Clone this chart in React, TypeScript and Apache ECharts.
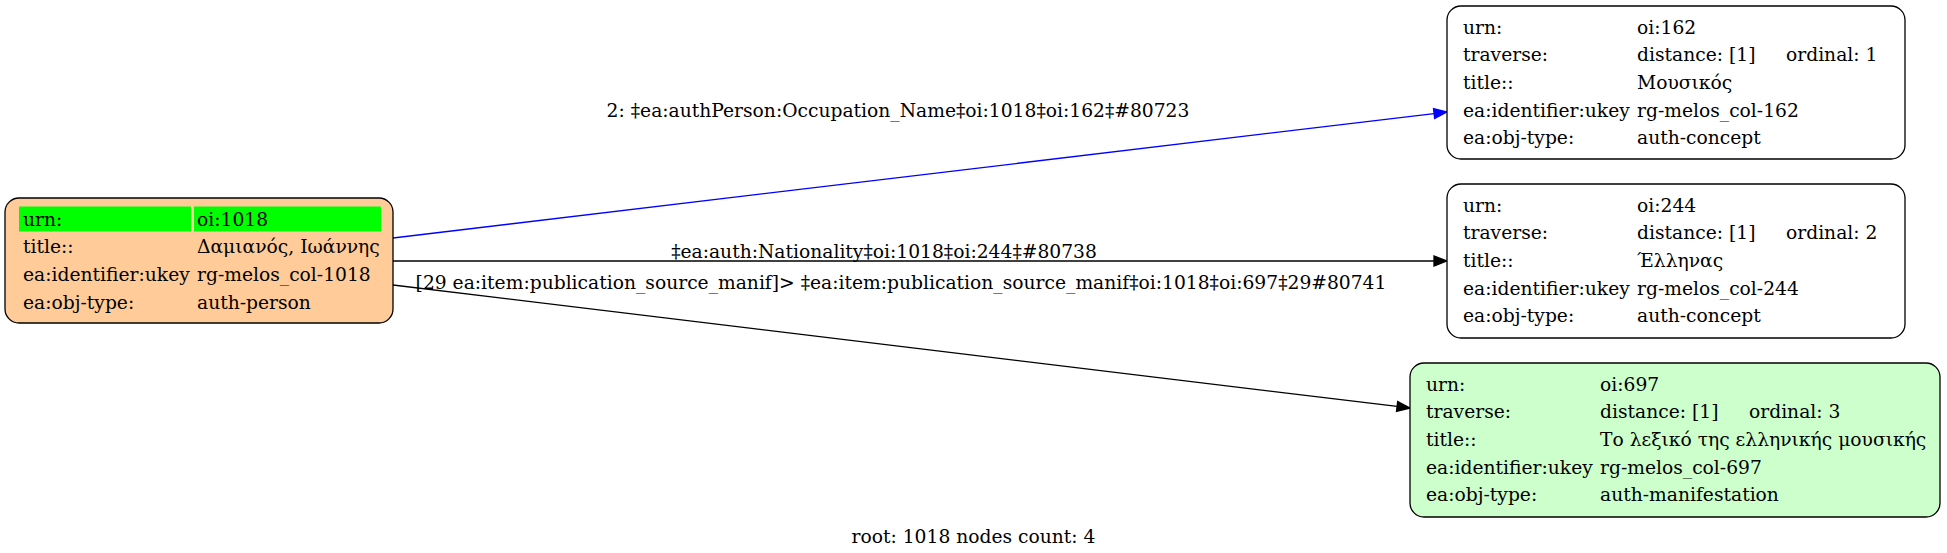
import { useEffect, useRef } from 'react';
import * as echarts from 'echarts';

const FONT_FAMILY = '"DejaVu Serif", serif';
const FONT_SIZE = 18.7;

// node table contents
const nodeUrns = ['oi:1018', 'oi:162', 'oi:244', 'oi:697'];
const nodeTitles = ['Δαμιανός, Ιωάννης', 'Μουσικός', 'Έλληνας', 'Το λεξικό της ελληνικής μουσικής'];
const nodeKeys = ['rg-melos_col-1018', 'rg-melos_col-162', 'rg-melos_col-244', 'rg-melos_col-697'];
const nodeTypes = ['auth-person', 'auth-concept', 'auth-concept', 'auth-manifestation'];
const nodeDistances = [null, 1, 1, 1];
const nodeOrdinals = [null, 1, 2, 3];
const nodeFills = ['#ffcc99', '#ffffff', '#ffffff', '#ccffcc'];

// edges
const edgeSources = [0, 0, 0];
const edgeTargets = [1, 2, 3];
const edgeLabels = [
    '2: ‡ea:authPerson:Occupation_Name‡oi:1018‡oi:162‡#80723',
    '‡ea:auth:Nationality‡oi:1018‡oi:244‡#80738',
    '[29 ea:item:publication_source_manif]> ‡ea:item:publication_source_manif‡oi:1018‡oi:697‡29#80741'
];
const edgeColors = ['#0000ff', '#000000', '#000000'];

const caption = 'root: 1018 nodes count: 4';

// layout (graphviz output, pixels)
const nodeBoxes = [
    [5, 198, 388, 125],
    [1447, 6, 458, 153],
    [1447, 184, 458, 154],
    [1410, 363, 530, 154]
];
const edgePorts = [
    [393, 238, 1447, 112],
    [393, 261, 1447, 261],
    [393, 285, 1410, 408]
];
const edgeLabelPos = [
    [898, 110],
    [884, 251],
    [901, 282]
];

const ROW_H = 27.7;
const FIRST_ROW = 21;

const nodeRows = (i: number) => {
    const rows: string[][] = [['urn:', nodeUrns[i]]];
    if (nodeDistances[i] != null) {
        rows.push(['traverse:', 'distance: [' + nodeDistances[i] + ']', 'ordinal: ' + nodeOrdinals[i]]);
    }
    rows.push(['title::', nodeTitles[i]]);
    rows.push(['ea:identifier:ukey', nodeKeys[i]]);
    rows.push(['ea:obj-type:', nodeTypes[i]]);
    return rows;
};

const txt = (text: string, x: number, y: number, align = 'left') => ({
    type: 'text',
    style: {
        text,
        x,
        y,
        fill: '#000',
        fontFamily: FONT_FAMILY,
        fontSize: FONT_SIZE,
        align,
        verticalAlign: 'middle'
    }
});

const App = () => {
    const chartRef = useRef<HTMLDivElement | null>(null);

    useEffect(() => {
        if (!chartRef.current) return;
        const chart = echarts.init(chartRef.current, null, { renderer: 'svg' });

        const option = {
            animation: false,
            backgroundColor: '#ffffff',
            grid: { left: 0, right: 0, top: 0, bottom: 0 },
            xAxis: { type: 'value', min: 0, max: 1947, show: false },
            yAxis: { type: 'value', min: 0, max: 553, inverse: true, show: false },
            title: {
                text: caption,
                left: 'center',
                top: 522,
                textStyle: { fontFamily: FONT_FAMILY, fontSize: FONT_SIZE, fontWeight: 'normal', color: '#000' }
            },
            series: [
                {
                    type: 'custom',
                    coordinateSystem: 'cartesian2d',
                    clip: false,
                    data: edgeSources.map((s, i) => [s, edgeTargets[i]]),
                    renderItem: (params: any, api: any) => {
                        const i = params.dataIndex;
                        const [x0, y0, x1, y1] = edgePorts[i];
                        const a = api.coord([x0, y0]);
                        const b = api.coord([x1, y1]);
                        const dx = b[0] - a[0];
                        const dy = b[1] - a[1];
                        const len = Math.sqrt(dx * dx + dy * dy);
                        const ux = dx / len;
                        const uy = dy / len;
                        const al = 13;
                        const aw = 5;
                        const bx = b[0] - ux * al;
                        const by = b[1] - uy * al;
                        const lp = api.coord(edgeLabelPos[i]);
                        return {
                            type: 'group',
                            children: [
                                {
                                    type: 'line',
                                    shape: { x1: a[0], y1: a[1], x2: bx, y2: by },
                                    style: { stroke: edgeColors[i], lineWidth: 1.3 }
                                },
                                {
                                    type: 'polygon',
                                    shape: {
                                        points: [
                                            [b[0], b[1]],
                                            [bx - uy * aw, by + ux * aw],
                                            [bx + uy * aw, by - ux * aw]
                                        ]
                                    },
                                    style: { fill: edgeColors[i], stroke: edgeColors[i], lineWidth: 1.3 }
                                },
                                txt(edgeLabels[i], lp[0], lp[1], 'center')
                            ]
                        };
                    }
                },
                {
                    type: 'custom',
                    coordinateSystem: 'cartesian2d',
                    clip: false,
                    data: nodeUrns.map((_, i) => [i]),
                    renderItem: (params: any, api: any) => {
                        const i = params.dataIndex;
                        const [bx, by, bw, bh] = nodeBoxes[i];
                        const p = api.coord([bx, by]);
                        const q = api.coord([bx + bw, by + bh]);
                        const children: any[] = [
                            {
                                type: 'rect',
                                shape: { x: p[0], y: p[1], width: q[0] - p[0], height: q[1] - p[1], r: 14 },
                                style: { fill: nodeFills[i], stroke: '#000', lineWidth: 1.3 }
                            }
                        ];
                        const rows = nodeRows(i);
                        rows.forEach((row, k) => {
                            const cy = p[1] + FIRST_ROW + k * ROW_H;
                            if (i === 0 && k === 0) {
                                children.push({
                                    type: 'rect',
                                    shape: { x: p[0] + 14, y: cy - 12.5, width: 172, height: 25 },
                                    style: { fill: '#00ff00' }
                                });
                                children.push({
                                    type: 'rect',
                                    shape: { x: p[0] + 189, y: cy - 12.5, width: 187, height: 25 },
                                    style: { fill: '#00ff00' }
                                });
                            }
                            const lx = p[0] + (i === 0 ? 18 : 16);
                            children.push(txt(row[0], lx, cy));
                            children.push(txt(row[1], lx + 174, cy));
                            if (row[2]) children.push(txt(row[2], p[0] + 339, cy));
                        });
                        return { type: 'group', children };
                    }
                }
            ]
        };

        chart.setOption(option);
        return () => chart.dispose();
    }, []);

    return (
        <div
            ref={chartRef}
            style={{ position: 'absolute', left: 0, top: 0, width: 1947, height: 553 }}
        />
    );
};

export default App;
